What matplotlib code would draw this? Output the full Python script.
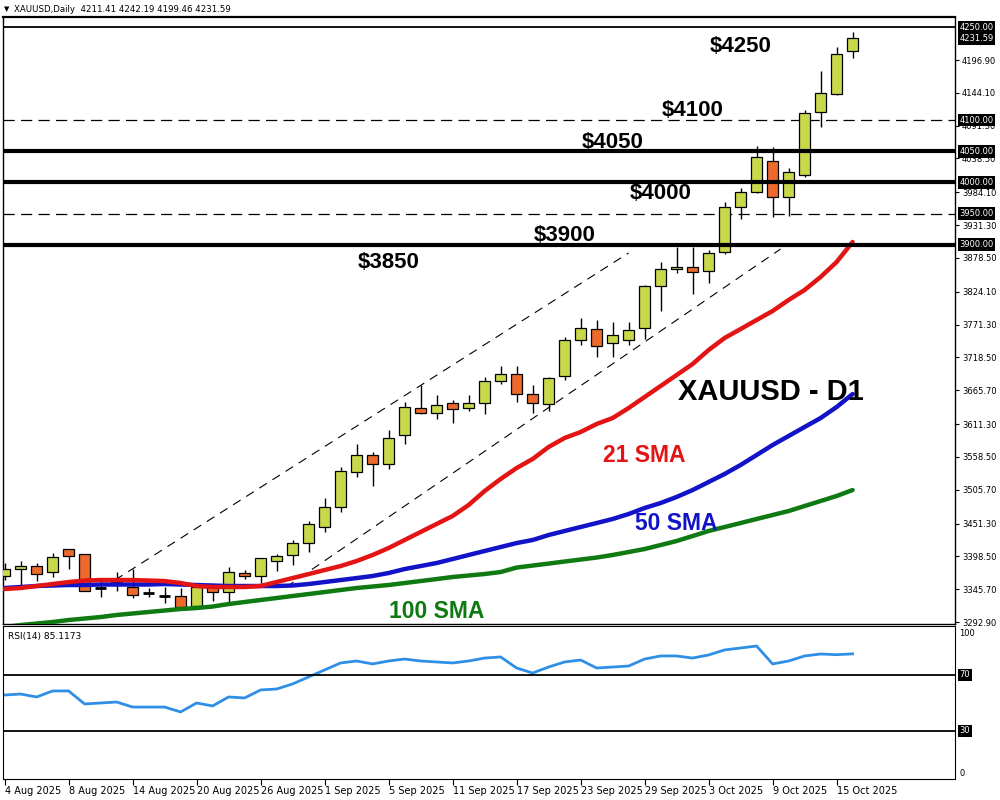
import matplotlib.pyplot as plt
import matplotlib.transforms as mtransforms
import numpy as np
import pandas as pd

plt.rcParams['font.family'] = ['DejaVu Sans']

# daily bars 4 Aug - 16 Oct 2025
dates = pd.bdate_range('2025-08-04', '2025-10-16')

opens = [3366.9, 3377.8, 3383.0, 3373.8, 3409.8, 3402.3, 3347.5, 3352.0, 3349.4, 3339.0,
         3335.2, 3334.7, 3318.6, 3352.4, 3340.6, 3371.2, 3367.4, 3391.5, 3400.7, 3419.5,
         3446.2, 3477.4, 3533.7, 3561.0, 3546.6, 3593.2, 3636.6, 3628.6, 3644.7, 3636.6,
         3644.7, 3680.6, 3691.8, 3659.6, 3643.1, 3688.6, 3746.5, 3764.2, 3741.7, 3746.5,
         3765.3, 3833.4, 3860.2, 3864.4, 3857.5, 3887.6, 3960.0, 3985.0, 4035.0, 3976.0,
         4011.4, 4112.8, 4142.2, 4211.41]
highs = [3387.8, 3391.0, 3387.3, 3403.4, 3410.5, 3403.0, 3362.0, 3373.8, 3377.6, 3347.0,
         3348.7, 3347.1, 3356.0, 3353.0, 3381.8, 3376.5, 3396.0, 3402.3, 3424.8, 3455.8,
         3492.9, 3541.7, 3579.2, 3566.4, 3601.7, 3646.8, 3674.6, 3658.0, 3650.0, 3658.0,
         3687.6, 3704.7, 3704.7, 3674.1, 3687.6, 3751.3, 3781.9, 3778.7, 3775.5, 3775.5,
         3835.0, 3871.5, 3895.6, 3896.6, 3891.3, 3969.0, 3990.5, 4058.6, 4057.5, 4022.7,
         4116.5, 4179.7, 4218.3, 4242.19]
lows = [3360.5, 3352.0, 3359.0, 3365.7, 3377.6, 3342.7, 3333.0, 3343.0, 3331.0, 3333.6,
        3323.9, 3316.0, 3317.0, 3327.0, 3321.8, 3361.6, 3355.0, 3375.4, 3384.6, 3406.0,
        3438.0, 3470.3, 3526.6, 3512.0, 3539.5, 3579.2, 3627.0, 3620.0, 3613.5, 3632.8,
        3627.0, 3675.2, 3646.3, 3628.6, 3632.8, 3682.0, 3738.5, 3719.2, 3719.0, 3738.5,
        3748.0, 3793.0, 3853.8, 3820.0, 3837.7, 3884.4, 3940.7, 3983.5, 3943.9, 3946.5,
        4009.0, 4089.6, 4141.0, 4199.46]
closes = [3378.1, 3383.0, 3369.6, 3397.0, 3399.0, 3343.2, 3347.5, 3358.0, 3335.8, 3339.0,
          3335.2, 3316.6, 3349.7, 3340.6, 3372.8, 3366.9, 3395.4, 3399.0, 3419.5, 3450.5,
          3477.4, 3535.8, 3561.0, 3546.6, 3588.4, 3638.3, 3628.6, 3642.0, 3635.0, 3644.7,
          3681.0, 3691.3, 3659.6, 3644.7, 3684.9, 3746.5, 3765.8, 3736.9, 3754.5, 3762.6,
          3833.4, 3860.2, 3863.4, 3855.4, 3886.0, 3961.0, 3985.0, 4040.4, 3976.0, 4017.2,
          4111.2, 4143.3, 4206.1, 4231.59]

sma21 = [3346.0, 3347.6, 3350.8, 3354.0, 3357.2, 3359.6, 3360.4, 3360.4, 3360.4, 3359.6,
         3358.8, 3355.6, 3350.8, 3349.2, 3349.2, 3349.2, 3350.8, 3357.2, 3363.6, 3370.0,
         3376.5, 3382.9, 3391.0, 3400.7, 3411.9, 3424.8, 3437.7, 3450.6, 3463.4, 3481.1,
         3503.6, 3522.9, 3540.6, 3555.1, 3574.4, 3588.9, 3598.5, 3611.4, 3621.0, 3637.1,
         3654.8, 3672.5, 3690.2, 3707.9, 3730.4, 3749.7, 3764.2, 3778.7, 3793.2, 3810.9,
         3827.0, 3847.9, 3872.0, 3904.2]
sma50 = [3347.6, 3349.2, 3350.8, 3351.6, 3352.4, 3352.4, 3353.2, 3353.2, 3353.2, 3353.2,
         3354.0, 3353.2, 3352.4, 3351.6, 3350.8, 3350.8, 3350.8, 3350.8, 3351.6, 3354.0,
         3357.2, 3360.4, 3363.6, 3366.9, 3371.7, 3378.1, 3382.9, 3387.8, 3394.2, 3400.7,
         3407.1, 3413.5, 3419.9, 3424.8, 3432.8, 3439.3, 3445.7, 3452.1, 3458.6, 3466.6,
         3476.3, 3484.3, 3494.0, 3505.2, 3518.1, 3531.0, 3545.5, 3561.5, 3577.6, 3592.1,
         3606.6, 3621.0, 3638.7, 3659.6]
sma100 = [3284.8, 3288.0, 3290.4, 3292.9, 3296.1, 3298.5, 3300.9, 3304.2, 3306.6, 3309.0,
          3311.4, 3313.8, 3315.4, 3317.8, 3321.8, 3325.1, 3328.3, 3331.5, 3334.7, 3337.9,
          3341.1, 3344.4, 3347.6, 3350.0, 3352.4, 3355.6, 3358.8, 3362.0, 3365.3, 3367.7,
          3370.1, 3373.3, 3380.5, 3383.7, 3386.9, 3390.2, 3393.4, 3396.6, 3400.7, 3405.5,
          3410.3, 3416.7, 3423.2, 3431.2, 3439.3, 3445.7, 3452.1, 3458.6, 3465.0, 3471.4,
          3479.5, 3487.5, 3495.6, 3505.2]
rsi = [55.7, 56.4, 54.3, 58.6, 58.6, 49.3, 50.0, 50.7, 47.1, 47.1,
       47.1, 43.6, 50.0, 47.9, 54.3, 53.6, 59.3, 60.0, 63.6, 68.6,
       73.6, 78.6, 80.0, 77.9, 80.0, 81.4, 80.0, 79.3, 78.6, 80.0,
       82.1, 82.9, 75.0, 71.4, 75.7, 79.3, 80.7, 75.0, 75.7, 76.4,
       81.4, 83.6, 83.6, 82.1, 84.3, 87.9, 89.3, 90.7, 77.9, 80.0,
       83.6, 85.0, 84.5, 85.1]

thick_levels = [4050, 4000, 3900]
dashed_levels = [4100, 3950]
top_level = 4250
price_ticks = [4196.90, 4144.10, 4091.30, 4038.50, 3984.10, 3931.30, 3878.50, 3824.10,
               3771.30, 3718.50, 3665.70, 3611.30, 3558.50, 3505.70, 3451.30, 3398.50,
               3345.70, 3292.90]
boxed_labels = [4250.00, 4231.59, 4100.00, 4050.00, 4000.00, 3950.00, 3900.00]

# channel anchors (bar index, price)
upper_channel = [(6.9, 3360.4), (39.0, 3886.5)]
lower_channel = [(17.6, 3349.2), (48.5, 3892.9)]

level_notes = ['$4250', '$4100', '$4050', '$4000', '$3900', '$3850']
note_pos = [(46.0, 4219.4), (43.0, 4116.5), (38.0, 4065.0), (41.0, 3981.4), (35.0, 3915.4), (24.0, 3872.0)]

bull = '#c8d84a'
bear = '#ec6a2c'

fig = plt.figure(figsize=(10, 8), dpi=100)
ax = fig.add_axes([0.003, 0.22, 0.952, 0.75875])
ax2 = fig.add_axes([0.003, 0.02625, 0.952, 0.19125])

x = np.arange(len(dates))
o = np.array(opens)
c = np.array(closes)
h = np.array(highs)
l = np.array(lows)

# candles
ax.vlines(x, l, h, color='black', lw=1, zorder=3)
for i in range(len(x)):
    if o[i] == c[i]:
        ax.hlines(o[i], x[i] - 0.33, x[i] + 0.33, color='black', lw=2, zorder=4)
    else:
        col = bull if c[i] > o[i] else bear
        ax.bar(x[i], abs(c[i] - o[i]), bottom=min(o[i], c[i]), width=0.66,
               color=col, edgecolor='black', lw=0.9, zorder=4)

# moving averages
ax.plot(x, sma100, color='#0f7a12', lw=3.2, zorder=5, solid_capstyle='round')
ax.plot(x, sma50, color='#1212c8', lw=3.2, zorder=5, solid_capstyle='round')
ax.plot(x, sma21, color='#e31414', lw=3.2, zorder=6, solid_capstyle='round')

# levels
ax.axhline(top_level, color='black', lw=1.3, zorder=2)
for lv in thick_levels:
    ax.axhline(lv, color='black', lw=3.0, zorder=7)
for lv in dashed_levels:
    ax.axhline(lv, color='black', lw=0.9, ls=(0, (9, 5)), zorder=2)

# channel
for line in (upper_channel, lower_channel):
    xs = [p[0] for p in line]
    ys = [p[1] for p in line]
    ax.plot(xs, ys, color='black', lw=0.8, ls=(0, (8, 6)), zorder=2)

for txt, (tx, ty) in zip(level_notes, note_pos):
    ax.text(tx, ty, txt, fontsize=16, fontweight='bold', family='Liberation Sans',
            ha='center', va='center', zorder=8)
ax.text(47.9, 3662.9, 'XAUUSD - D1', fontsize=21, fontweight='bold', family='Liberation Sans',
        ha='center', va='center', zorder=8)
ax.text(40.0, 3561.5, '21 SMA', fontsize=16.5, fontweight='bold', family='Liberation Sans',
        color='#e31414', ha='center', va='center', zorder=8)
ax.text(42.0, 3452.0, '50 SMA', fontsize=16.5, fontweight='bold', family='Liberation Sans',
        color='#1212c8', ha='center', va='center', zorder=8)
ax.text(27.0, 3310.6, '100 SMA', fontsize=16.5, fontweight='bold', family='Liberation Sans',
        color='#0f7a12', ha='center', va='center', zorder=8)

ax.set_xlim(-0.1, 59.4)
ax.set_ylim(3289.7, 4266.1)
ax.yaxis.tick_right()
ax.set_yticks(price_ticks)
ax.set_yticklabels([f'{v:.2f}' for v in price_ticks])
ax.tick_params(axis='y', labelsize=6, length=3, pad=2)
ax.set_xticks([])
for s in ax.spines.values():
    s.set_linewidth(1)
ax.spines['top'].set_linewidth(1.6)

trans = mtransforms.blended_transform_factory(ax.transAxes, ax.transData)
for v in boxed_labels:
    ax.text(1.0045, v, f'{v:.2f}', transform=trans, fontsize=6, color='white',
            ha='left', va='center', clip_on=False, zorder=10,
            bbox=dict(facecolor='black', edgecolor='none', boxstyle='square,pad=0.2'))

# RSI panel
ax2.plot(x, rsi, color='#2f8fe6', lw=2)
ax2.axhline(70, color='black', lw=1.3)
ax2.axhline(30, color='black', lw=1.3)
ax2.set_xlim(-0.1, 59.4)
ax2.set_ylim(-4.3, 105)
ax2.yaxis.tick_right()
ax2.set_yticks([100, 0])
ax2.set_yticklabels(['100', '0'])
ax2.tick_params(axis='y', labelsize=6, length=0, pad=3)
trans2 = mtransforms.blended_transform_factory(ax2.transAxes, ax2.transData)
for v in [70, 30]:
    ax2.text(1.0045, v, str(v), transform=trans2, fontsize=6, color='white',
             ha='left', va='center', clip_on=False,
             bbox=dict(facecolor='black', edgecolor='none', boxstyle='square,pad=0.2'))
ax2.text(0.005, 0.93, 'RSI(14) 85.1173', transform=ax2.transAxes, fontsize=6.5,
         ha='left', va='center')

tick_idx = list(range(0, len(dates), 4))
ax2.set_xticks(tick_idx)
ax2.set_xticklabels([f'{dates[i].day} {dates[i]:%b %Y}' for i in tick_idx])
ax2.tick_params(axis='x', labelsize=7, length=4, pad=1)
for lbl in ax2.get_xticklabels():
    lbl.set_ha('left')

fig.text(0.004, 0.988, '\u25bc', fontsize=5, va='center')
fig.text(0.014, 0.988, 'XAUUSD,Daily  4211.41 4242.19 4199.46 4231.59', fontsize=6.2, va='center')

fig.savefig('out.png', dpi=100)
